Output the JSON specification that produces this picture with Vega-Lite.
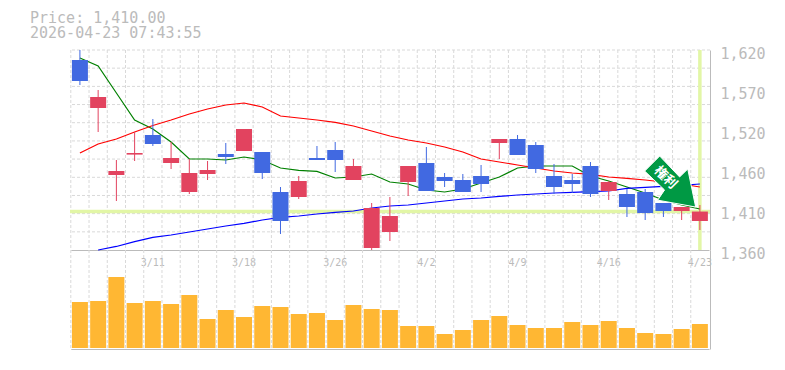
{
"$schema":"https://vega.github.io/schema/vega-lite/v6.json",
"padding":{"left":30,"top":11,"right":0,"bottom":0},
"background":"white",
"bounds":"flush",
"spacing":0,
"title":{"text":["Price: 1,410.00","2026-04-23 07:43:55"],"anchor":"start","frame":"group","dx":-40,"offset":5,"font":"DejaVu Sans Mono","fontSize":15,"fontWeight":"normal","color":"#bbbbbb","lineHeight":15},
"config":{"view":{"stroke":null},"axis":{"grid":false,"ticks":false,"title":null,"labelOverlap":false,"labelBound":false},"axisY":{"labelOverlap":false,"labelSeparation":0}},
"datasets":{
"rows":[
{"d":"3/5","dir":"down","open":1607,"close":1579.7,"high":1620,"low":1574.5,"volume":46000,"ma5":1609.6,"ma25":1486.1,"ma75":null},
{"d":"3/6","dir":"up","open":1544.6,"close":1558.9,"high":1568,"low":1513.4,"volume":47000,"ma5":1599.2,"ma25":1497.8,"ma75":1360},
{"d":"3/9","dir":"up","open":1457.5,"close":1462.7,"high":1477,"low":1423.7,"volume":71000,"ma5":1564.1,"ma25":1504.3,"ma75":1364.6},
{"d":"3/10","dir":"up","open":1484,"close":1486.1,"high":1513.4,"low":1475.7,"volume":45000,"ma5":1529,"ma25":1513.4,"ma75":1370.8},
{"d":"3/11","dir":"down","open":1509.5,"close":1497.8,"high":1530.3,"low":1495.2,"volume":47000,"ma5":1517.3,"ma25":1521.9,"ma75":1376.3},
{"d":"3/12","dir":"up","open":1473.1,"close":1479.6,"high":1500.4,"low":1465.3,"volume":44000,"ma5":1500.4,"ma25":1529,"ma75":1379.5},
{"d":"3/13","dir":"up","open":1435.4,"close":1460.1,"high":1478.3,"low":1432.8,"volume":53000,"ma5":1478.3,"ma25":1536.8,"ma75":1383.4},
{"d":"3/16","dir":"up","open":1458.8,"close":1464,"high":1475.7,"low":1451,"volume":29000,"ma5":1478.3,"ma25":1543.3,"ma75":1387.3},
{"d":"3/17","dir":"down","open":1484.8,"close":1480.9,"high":1499.1,"low":1471.8,"volume":38000,"ma5":1477,"ma25":1548.5,"ma75":1391.2},
{"d":"3/18","dir":"up","open":1488.7,"close":1517.3,"high":1517.3,"low":1488.7,"volume":31000,"ma5":1480.9,"ma25":1551.1,"ma75":1394.5},
{"d":"3/19","dir":"down","open":1487.4,"close":1460.1,"high":1487.4,"low":1452.3,"volume":42000,"ma5":1477,"ma25":1545.9,"ma75":1399},
{"d":"3/23","dir":"down","open":1435.4,"close":1397.7,"high":1441.9,"low":1380.8,"volume":41000,"ma5":1466.6,"ma25":1534.2,"ma75":1402.3},
{"d":"3/24","dir":"up","open":1428.9,"close":1449.7,"high":1456.2,"low":1426.3,"volume":34000,"ma5":1463.4,"ma25":1531.6,"ma75":1404.2},
{"d":"3/25","dir":"down","open":1479.6,"close":1477,"high":1495.2,"low":1477,"volume":35000,"ma5":1462.1,"ma25":1529,"ma75":1406.8},
{"d":"3/26","dir":"down","open":1490,"close":1477,"high":1500.4,"low":1461.4,"volume":28000,"ma5":1453.6,"ma25":1525.8,"ma75":1408.8},
{"d":"3/27","dir":"up","open":1451,"close":1469.2,"high":1478.3,"low":1451,"volume":43000,"ma5":1454.9,"ma25":1521.2,"ma75":1410.7},
{"d":"3/30","dir":"up","open":1362.6,"close":1414.6,"high":1421.1,"low":1360,"volume":39000,"ma5":1458.8,"ma25":1514.7,"ma75":1414.6},
{"d":"3/31","dir":"up","open":1383.4,"close":1404.2,"high":1428.9,"low":1371.7,"volume":38000,"ma5":1448.4,"ma25":1508.2,"ma75":1417.2},
{"d":"4/1","dir":"up","open":1448.4,"close":1469.2,"high":1469.2,"low":1430.2,"volume":22000,"ma5":1445.8,"ma25":1503,"ma75":1418.5},
{"d":"4/2","dir":"down","open":1473.1,"close":1436.7,"high":1493.9,"low":1436.7,"volume":22000,"ma5":1438,"ma25":1499.1,"ma75":1421.1},
{"d":"4/3","dir":"down","open":1454.9,"close":1449.7,"high":1460.1,"low":1441.9,"volume":14000,"ma5":1435.4,"ma25":1493.9,"ma75":1423.7},
{"d":"4/6","dir":"down","open":1451,"close":1435.4,"high":1458.8,"low":1435.4,"volume":18000,"ma5":1439.3,"ma25":1487.4,"ma75":1426.3},
{"d":"4/7","dir":"down","open":1456.2,"close":1445.8,"high":1470.5,"low":1435.4,"volume":28000,"ma5":1447.1,"ma25":1478.3,"ma75":1427.6},
{"d":"4/8","dir":"up","open":1499.1,"close":1504.3,"high":1504.3,"low":1478.3,"volume":32000,"ma5":1454.9,"ma25":1474.4,"ma75":1429.6},
{"d":"4/9","dir":"down","open":1504.3,"close":1483.5,"high":1509.5,"low":1483.5,"volume":23000,"ma5":1466.6,"ma25":1470.5,"ma75":1431.5},
{"d":"4/10","dir":"down","open":1496.5,"close":1465.3,"high":1500.4,"low":1460.1,"volume":20000,"ma5":1469.2,"ma25":1466.6,"ma75":1432.8},
{"d":"4/13","dir":"down","open":1456.2,"close":1441.9,"high":1471.8,"low":1432.8,"volume":20000,"ma5":1469.2,"ma25":1462.7,"ma75":1434.1},
{"d":"4/14","dir":"down","open":1451,"close":1445.8,"high":1458.8,"low":1434.1,"volume":26000,"ma5":1469.2,"ma25":1460.1,"ma75":1434.8},
{"d":"4/15","dir":"down","open":1469.2,"close":1432.8,"high":1474.4,"low":1428.9,"volume":23000,"ma5":1456.2,"ma25":1458.2,"ma75":1436},
{"d":"4/16","dir":"up","open":1436.7,"close":1448.4,"high":1449.7,"low":1425,"volume":27000,"ma5":1449.7,"ma25":1454.9,"ma75":1436.7},
{"d":"4/17","dir":"down","open":1432.8,"close":1415.9,"high":1439.3,"low":1402.9,"volume":20000,"ma5":1441.9,"ma25":1453,"ma75":1440},
{"d":"4/20","dir":"down","open":1435.4,"close":1408.1,"high":1439.3,"low":1399,"volume":15000,"ma5":1434.1,"ma25":1451,"ma75":1441.3},
{"d":"4/21","dir":"down","open":1421.1,"close":1410.7,"high":1421.1,"low":1402.9,"volume":14000,"ma5":1425,"ma25":1448.4,"ma75":1442.6},
{"d":"4/22","dir":"up","open":1410.7,"close":1415.9,"high":1415.9,"low":1399,"volume":19000,"ma5":1418.5,"ma25":1445.8,"ma75":1443.9},
{"d":"4/23","dir":"up","open":1397.7,"close":1410,"high":1418.5,"low":1386,"volume":24000,"ma5":1413.3,"ma25":1441.9,"ma75":1445.8}
],
"hgrid":[{"p":1620},{"p":1596.4},{"p":1572.7},{"p":1549.1},{"p":1525.5},{"p":1501.8},{"p":1478.2},{"p":1454.5},{"p":1430.9},{"p":1407.3},{"p":1383.6}],
"marker":[{"d":"4/21","p":1449,"t":"権利","tp":1454.25}]
},
"vconcat":[
{
"width":640,"height":200,
"data":{"name":"rows"},
"resolve":{"axis":{"y":"independent"}},
"layer":[
{"data":{"name":"hgrid"},"mark":{"type":"rule","stroke":"#d9d9d9","strokeWidth":1,"strokeDash":[3,2]},"encoding":{"y":{"field":"p","type":"quantitative","title":null,"scale":{"domain":[1360,1620],"nice":false,"zero":false},"axis":{"orient":"right","values":[1360,1412,1464,1516,1568,1620],"labelExpr":"format(round(datum.value/10)*10,',')","domainColor":"#bbbbbb","domainWidth":1,"ticks":false,"grid":false,"labelFont":"DejaVu Sans Mono","labelFontSize":15,"labelColor":"#bbbbbb","labelPadding":10,"labelOffset":3,"labelFlush":false,"labelOverlap":false,"labelSeparation":0,"labelBound":false}}}},
{"mark":{"type":"rule","stroke":"#d9d9d9","strokeWidth":1,"strokeDash":[3,2]},"encoding":{"x":{"field":"d","type":"ordinal","sort":null,"bandPosition":0,"title":null,"scale":{"type":"band","range":[0.8,639],"paddingInner":0,"paddingOuter":0},"axis":{"domainColor":"#bbbbbb","domainWidth":1,"ticks":false,"grid":false,"labelAngle":0,"labelOverlap":false,"labelFont":"DejaVu Sans Mono","labelFontSize":10,"labelColor":"#bbbbbb","labelPadding":7,"labelExpr":"indexof(['3/11','3/18','3/26','4/2','4/9','4/16','4/23'],datum.value)>=0?datum.value:''"}}}},
{"data":{"values":[{"p":1410}]},"mark":{"type":"rule","stroke":"#e2f6a6","strokeWidth":3.5},"encoding":{"y":{"field":"p","type":"quantitative","title":null,"axis":null}}},
{"data":{"values":[{"d":"4/23"}]},"mark":{"type":"rule","stroke":"#e2f6a6","strokeWidth":3.5},"encoding":{"x":{"field":"d","type":"ordinal","sort":null,"title":null}}},
{"mark":{"type":"line","stroke":"#008000","strokeWidth":1.2},"encoding":{"x":{"field":"d","type":"ordinal","sort":null,"title":null},"y":{"field":"ma5","type":"quantitative","title":null,"axis":null}}},
{"mark":{"type":"line","stroke":"#ff0000","strokeWidth":1.2},"encoding":{"x":{"field":"d","type":"ordinal","sort":null,"title":null},"y":{"field":"ma25","type":"quantitative","title":null,"axis":null}}},
{"mark":{"type":"line","stroke":"#0000ff","strokeWidth":1.2},"encoding":{"x":{"field":"d","type":"ordinal","sort":null,"title":null},"y":{"field":"ma75","type":"quantitative","title":null,"axis":null}}},
{"mark":{"type":"rule","strokeWidth":1},"encoding":{"x":{"field":"d","type":"ordinal","sort":null,"title":null},"y":{"field":"low","type":"quantitative","title":null,"axis":null},"y2":{"field":"high"},"color":{"field":"dir","type":"nominal","legend":null,"scale":{"domain":["up","down"],"range":["#e2435f","#4169e1"]}}}},
{"mark":{"type":"bar","size":16},"encoding":{"x":{"field":"d","type":"ordinal","sort":null,"title":null},"y":{"field":"open","type":"quantitative","title":null,"axis":null},"y2":{"field":"close"},"color":{"field":"dir","type":"nominal","legend":null}}},
{"data":{"name":"marker"},"mark":{"type":"point","shape":"M-0.41,-1L-1,-0.41L-0.22,0.33L-0.49,0.73L1,1L0.69,-0.49L0.37,-0.18Z","size":2601,"filled":true,"fill":"#009944","stroke":"#ffffff","strokeWidth":1,"opacity":1},"encoding":{"x":{"field":"d","type":"ordinal","sort":null,"bandPosition":0.87,"title":null},"y":{"field":"p","type":"quantitative","title":null,"axis":null}}},
{"data":{"name":"marker"},"mark":{"type":"text","color":"#ffffff","font":"Noto Sans CJK JP","fontSize":13,"fontWeight":"bold","angle":45,"align":"center","baseline":"middle"},"encoding":{"x":{"field":"d","type":"ordinal","sort":null,"bandPosition":0.62,"title":null},"y":{"field":"tp","type":"quantitative","title":null,"axis":null},"text":{"field":"t"}}}
]
},
{
"width":640,"height":99,
"data":{"name":"rows"},
"layer":[
{"mark":{"type":"rule","stroke":"#d9d9d9","strokeWidth":1,"strokeDash":[3,2]},"encoding":{"x":{"field":"d","type":"ordinal","sort":null,"bandPosition":0,"title":null,"scale":{"type":"band","range":[0.8,639],"paddingInner":0,"paddingOuter":0},"axis":{"domainColor":"#bbbbbb","domainWidth":1,"ticks":false,"grid":false,"labels":false}}}},
{"mark":{"type":"bar","size":16,"color":"#ffb733"},"encoding":{"x":{"field":"d","type":"ordinal","sort":null},"y":{"field":"volume","type":"quantitative","title":null,"scale":{"domain":[-1000,98000],"nice":false,"zero":false},"axis":{"orient":"right","domainColor":"#bbbbbb","domainWidth":1,"ticks":false,"grid":false,"labels":false}}}}
]
}
]
}
